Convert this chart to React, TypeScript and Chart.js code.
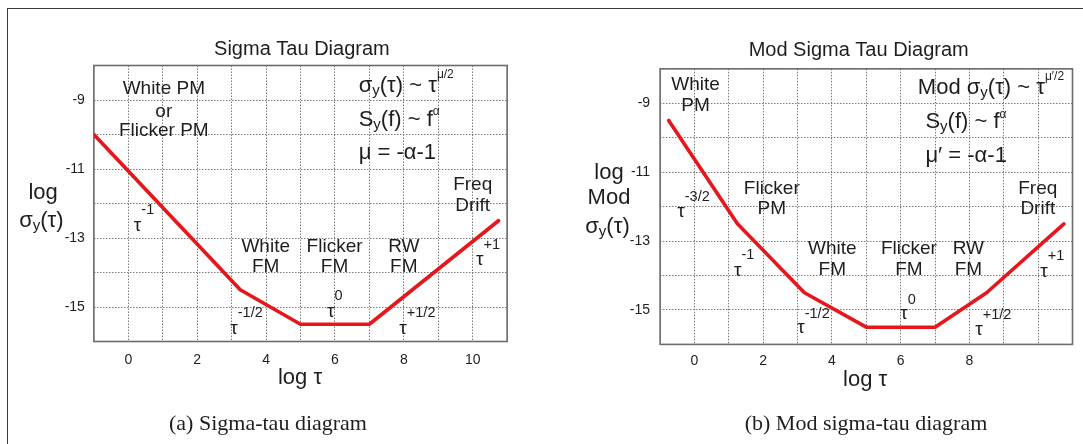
import React, { useEffect, useRef } from 'react';
import { Chart, registerables } from 'chart.js';

Chart.register(...registerables);

const SANS = '"Liberation Sans", Arial, Helvetica, sans-serif';
const SERIF = '"Liberation Serif", "Times New Roman", serif';
const INK = '#1e1e1e';
const RED = '#e8161b';

// Corner points of the noise-slope curves (log tau, log sigma)
const sigmaLogTau = [-1, 3.25, 5, 7, 10.75];
const sigmaLogSigma = [-10, -14.5, -15.5, -15.5, -12.5];
const modLogTau = [-0.75, 1.25, 3.2, 5, 7, 8.5, 10.75];
const modLogSigma = [-9.5, -12.5, -14.5, -15.5, -15.5, -14.5, -12.5];

// Labelled ticks (grid lines are drawn at every integer)
const sigmaXLabels = [0, 2, 4, 6, 8, 10];
const modXLabels = [0, 2, 4, 6, 8];
const yLabels = [-9, -11, -13, -15];

type Part = { t: string; size?: number; dy?: number };
type Note = { x: number; y: number; align?: 'left' | 'center'; parts: Part[] };
type Label = { x: number; y: number; parts: Part[] };

const word = (x: number, y: number, t: string): Note => ({ x, y, parts: [{ t }] });
const tauPow = (x: number, y: number, exp: string, dy = -15): Note => ({
  x,
  y,
  align: 'left',
  parts: [{ t: 'τ' }, { t: exp, size: 14.5, dy }],
});
const formula = (x: number, y: number, parts: Part[]): Note => ({ x, y, align: 'left', parts });

const sigmaY: Part[] = [{ t: 'σ', size: 22 }, { t: 'y', size: 15, dy: 5 }];

const sigmaNotes: Note[] = [
  word(1.03, -8.66, 'White PM'),
  word(1.03, -9.34, 'or'),
  word(1.03, -9.89, 'Flicker PM'),
  word(10.0, -11.46, 'Freq'),
  word(10.0, -12.07, 'Drift'),
  word(3.99, -13.25, 'White'),
  word(3.99, -13.83, 'FM'),
  word(5.99, -13.25, 'Flicker'),
  word(5.99, -13.83, 'FM'),
  word(8.0, -13.25, 'RW'),
  word(8.0, -13.83, 'FM'),
  formula(6.69, -8.59, [...sigmaY, { t: '(τ) ~ τ', size: 22 }, { t: 'μ/2', size: 12, dy: -11 }]),
  formula(6.69, -9.58, [{ t: 'S', size: 22 }, { t: 'y', size: 15, dy: 5 }, { t: '(f) ~ f', size: 22 }, { t: 'α', size: 12, dy: -8 }]),
  formula(6.69, -10.54, [{ t: 'μ = -α-1', size: 22 }]),
  tauPow(0.16, -12.65, '-1', -16),
  tauPow(2.96, -15.62, '-1/2'),
  tauPow(5.77, -15.13, '0'),
  tauPow(7.87, -15.62, '+1/2'),
  tauPow(10.1, -13.64, '+1'),
];

const modNotes: Note[] = [
  word(0.03, -8.47, 'White'),
  word(0.03, -9.08, 'PM'),
  word(2.25, -11.47, 'Flicker'),
  word(2.25, -12.05, 'PM'),
  word(9.99, -11.47, 'Freq'),
  word(9.99, -12.05, 'Drift'),
  word(4.01, -13.21, 'White'),
  word(4.01, -13.84, 'FM'),
  word(6.24, -13.21, 'Flicker'),
  word(6.24, -13.84, 'FM'),
  word(7.97, -13.21, 'RW'),
  word(7.97, -13.84, 'FM'),
  formula(6.5, -8.54, [{ t: 'Mod ', size: 22 }, ...sigmaY, { t: '(τ) ~ τ', size: 22 }, { t: 'μ′/2', size: 12, dy: -11 }]),
  formula(6.72, -9.55, [{ t: 'S', size: 22 }, { t: 'y', size: 15, dy: 5 }, { t: '(f) ~ f', size: 22 }, { t: 'α', size: 12, dy: -8 }]),
  formula(6.72, -10.52, [{ t: 'μ′ = -α-1', size: 22 }]),
  tauPow(-0.5, -12.15, '-3/2'),
  tauPow(1.15, -13.85, '-1'),
  tauPow(2.99, -15.53, '-1/2', -14),
  tauPow(5.99, -15.1, '0', -13),
  tauPow(8.17, -15.57, '+1/2'),
  tauPow(10.06, -13.89, '+1', -16),
];

type Panel = {
  left: number;
  width: number;
  area: { left: number; right: number; top: number; bottom: number };
  xs: number[];
  ys: number[];
  xLabels: number[];
  notes: Note[];
  title: string;
  titleAt: { dx: number; dy: number };
  xTitleAt: { dx: number; dy: number };
  yTitle: Label[];
  xPad: number;
  yPad: number;
  caption: string;
  captionX: number;
};

const panels: Panel[] = [
  {
    left: 0,
    width: 540,
    area: { left: 93.9, right: 507.1, top: 65.5, bottom: 341.5 },
    xs: sigmaLogTau,
    ys: sigmaLogSigma,
    xLabels: sigmaXLabels,
    notes: sigmaNotes,
    title: 'Sigma Tau Diagram',
    titleAt: { dx: 1.4, dy: -16.5 },
    xTitleAt: { dx: -0.5, dy: 36.8 },
    yTitle: [
      { x: 43.1, y: 192.5, parts: [{ t: 'log', size: 22 }] },
      { x: 41.4, y: 221, parts: [...sigmaY, { t: '(τ)', size: 22 }] },
    ],
    xPad: 10,
    yPad: 9,
    caption: '(a) Sigma-tau diagram',
    captionX: 268,
  },
  {
    left: 540,
    width: 543,
    area: { left: 120.1, right: 532.5, top: 68.85, bottom: 344.4 },
    xs: modLogTau,
    ys: modLogSigma,
    xLabels: modXLabels,
    notes: modNotes,
    title: 'Mod Sigma Tau Diagram',
    titleAt: { dx: -7.6, dy: -18.2 },
    xTitleAt: { dx: -1.1, dy: 35.6 },
    yTitle: [
      { x: 69, y: 173.3, parts: [{ t: 'log', size: 22 }] },
      { x: 69, y: 198.3, parts: [{ t: 'Mod', size: 22 }] },
      { x: 67.5, y: 226.7, parts: [...sigmaY, { t: '(τ)', size: 22 }] },
    ],
    xPad: 8,
    yPad: 10,
    caption: '(b) Mod sigma-tau diagram',
    captionX: 866,
  },
];

const isLabelled = (v: number, list: number[]) => list.some((l) => Math.abs(l - v) < 1e-6);

function drawRich(
  ctx: CanvasRenderingContext2D,
  px: number,
  py: number,
  parts: Part[],
  align: 'left' | 'center',
  baseSize: number
) {
  let total = 0;
  const widths = parts.map((p) => {
    ctx.font = `${p.size ?? baseSize}px ${SANS}`;
    const w = ctx.measureText(p.t).width;
    total += w;
    return w;
  });
  let cx = align === 'center' ? px - total / 2 : px;
  parts.forEach((p, i) => {
    ctx.font = `${p.size ?? baseSize}px ${SANS}`;
    ctx.fillText(p.t, cx, py + (p.dy ?? 0));
    cx += widths[i];
  });
}

function DiagramPanel({ panel }: { panel: Panel }) {
  const ref = useRef<HTMLCanvasElement | null>(null);

  useEffect(() => {
    const canvas = ref.current;
    if (!canvas) return;
    const { area } = panel;
    const H = 444;

    const framePlugin = {
      id: 'plotFrame',
      beforeDatasetsDraw(chart: any) {
        const { ctx, chartArea: a } = chart;
        ctx.save();
        ctx.strokeStyle = '#6b6b6b';
        ctx.lineWidth = 1.6;
        ctx.strokeRect(a.left, a.top, a.right - a.left, a.bottom - a.top);
        ctx.restore();
      },
    };

    const textPlugin = {
      id: 'diagramText',
      afterDatasetsDraw(chart: any) {
        const { ctx, chartArea: a, scales } = chart;
        ctx.save();
        ctx.fillStyle = INK;
        ctx.textBaseline = 'middle';
        ctx.textAlign = 'left';
        panel.notes.forEach((n) => {
          drawRich(
            ctx,
            scales.x.getPixelForValue(n.x),
            scales.y.getPixelForValue(n.y),
            n.parts,
            n.align ?? 'center',
            19
          );
        });
        const cx = (a.left + a.right) / 2;
        drawRich(ctx, cx + panel.titleAt.dx, a.top + panel.titleAt.dy, [{ t: panel.title }], 'center', 20);
        drawRich(
          ctx,
          cx + panel.xTitleAt.dx,
          a.bottom + panel.xTitleAt.dy,
          [{ t: 'log ', size: 22 }, { t: 'τ', size: 22 }],
          'center',
          22
        );
        panel.yTitle.forEach((l) => drawRich(ctx, l.x, l.y, l.parts, 'center', 22));
        ctx.restore();
      },
    };

    const chart = new Chart(canvas, {
      type: 'scatter',
      data: {
        datasets: [
          {
            data: panel.xs.map((x, i) => ({ x, y: panel.ys[i] })),
            showLine: true,
            borderColor: RED,
            backgroundColor: RED,
            borderWidth: 3.6,
            pointRadius: 0,
            borderJoinStyle: 'round',
            borderCapStyle: 'round',
            tension: 0,
          },
        ],
      },
      options: {
        responsive: false,
        animation: false,
        events: [],
        layout: {
          padding: { left: 0, top: area.top, right: panel.width - area.right, bottom: 0 },
        },
        plugins: {
          legend: { display: false },
          tooltip: { enabled: false },
          title: { display: false },
        },
        scales: {
          x: {
            type: 'linear',
            min: -1,
            max: 11,
            afterFit: (s: any) => {
              s.height = H - area.bottom;
            },
            border: { display: false, dash: [1.5, 1.5] },
            grid: { color: '#7a7a7a', lineWidth: 1, drawTicks: false },
            ticks: {
              stepSize: 1,
              autoSkip: false,
              maxRotation: 0,
              padding: panel.xPad,
              color: INK,
              font: { family: SANS, size: 14 },
              callback: (v: any) => (isLabelled(Number(v), panel.xLabels) ? String(v) : ''),
            },
          },
          y: {
            type: 'linear',
            min: -16,
            max: -8,
            afterFit: (s: any) => {
              s.width = area.left;
            },
            border: { display: false, dash: [1.5, 1.5] },
            grid: { color: '#7a7a7a', lineWidth: 1, drawTicks: false },
            ticks: {
              stepSize: 1,
              autoSkip: false,
              padding: panel.yPad,
              color: INK,
              font: { family: SANS, size: 14 },
              callback: (v: any) => (isLabelled(Number(v), yLabels) ? String(v) : ''),
            },
          },
        },
      },
      plugins: [framePlugin, textPlugin],
    } as any);

    return () => chart.destroy();
  }, [panel]);

  return (
    <canvas
      ref={ref}
      width={panel.width}
      height={444}
      style={{ position: 'absolute', left: panel.left, top: 0, width: panel.width, height: 444 }}
    />
  );
}

export default function App() {
  return (
    <div
      style={{
        position: 'fixed',
        left: 0,
        top: 0,
        width: 1083,
        height: 444,
        overflow: 'hidden',
        background: '#ffffff',
      }}
    >
      <div
        style={{
          position: 'absolute',
          left: 7,
          top: 8,
          width: 1200,
          height: 600,
          borderLeft: '1.5px solid #3a3a3a',
          borderTop: '1.5px solid #3a3a3a',
        }}
      />
      {panels.map((p) => (
        <DiagramPanel key={p.title} panel={p} />
      ))}
      {panels.map((p) => (
        <div
          key={p.caption}
          style={{
            position: 'absolute',
            left: p.captionX,
            top: 423,
            transform: 'translate(-50%, -50%)',
            whiteSpace: 'nowrap',
            fontFamily: SERIF,
            fontSize: 22,
            lineHeight: 1,
            color: INK,
          }}
        >
          {p.caption}
        </div>
      ))}
    </div>
  );
}
